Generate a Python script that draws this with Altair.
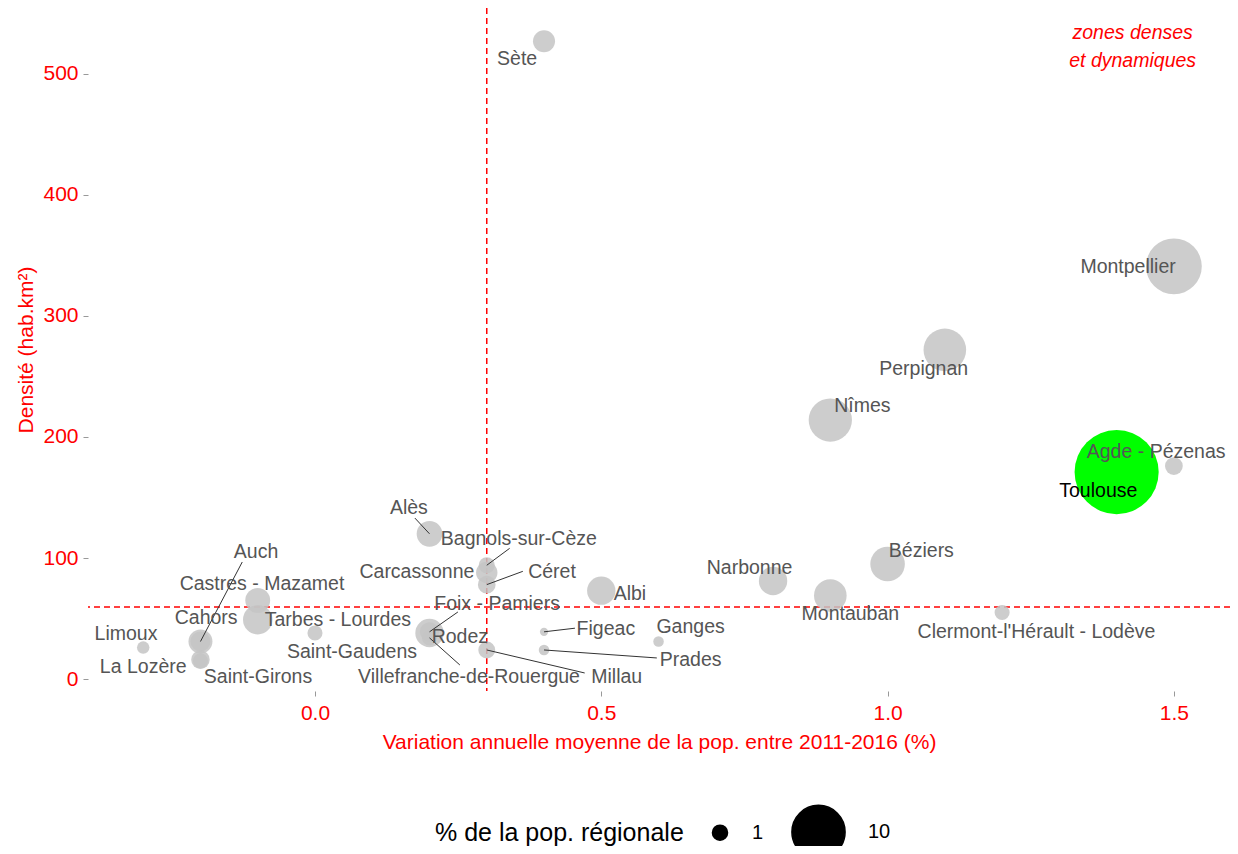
import altair as alt
import pandas as pd

zones = ["Sète", "Montpellier", "Perpignan", "Nîmes", "Agde - Pézenas", "Toulouse",
         "Béziers", "Narbonne", "Montauban", "Clermont-l'Hérault - Lodève", "Albi",
         "Ganges", "Figeac", "Prades", "Millau", "Villefranche-de-Rouergue", "Rodez",
         "Saint-Gaudens", "Foix - Pamiers", "Tarbes - Lourdes", "Carcassonne", "Céret",
         "Bagnols-sur-Cèze", "Alès", "Auch", "Castres - Mazamet", "Cahors", "Limoux",
         "La Lozère", "Saint-Girons"]
growth = [0.4, 1.5, 1.1, 0.9, 1.5, 1.4,
          1.0, 0.8, 0.9, 1.2, 0.5,
          0.6, 0.4, 0.4, 0.3, 0.2, 0.2,
          0.0, 0.2, -0.1, 0.3, 0.3,
          0.3, 0.2, -0.2, -0.1, -0.2, -0.3,
          -0.2, -0.2]
density = [527, 341, 272, 214, 176, 171,
           95, 81, 69, 55, 73,
           31, 39, 24, 24, 34, 38,
           38, 39, 49, 88, 78,
           94, 120, 31, 65, 31, 26,
           15, 16]
share = [1.9, 11.0, 6.5, 6.7, 1.3, 24.7,
         4.35, 3.0, 3.9, 1.0, 3.0,
         0.6, 0.45, 0.6, 1.2, 1.0, 3.0,
         1.0, 1.5, 3.2, 1.8, 1.3,
         1.1, 2.5, 1.6, 2.35, 2.2, 0.75,
         1.0, 1.4]
label_x = [0.353, 1.42, 1.063, 0.956, 1.469, 1.368,
           1.059, 0.759, 0.935, 1.26, 0.55,
           0.656, 0.508, 0.656, 0.527, 0.269, 0.253,
           0.0646, 0.318, 0.04, 0.178, 0.414,
           0.356, 0.164, -0.103, -0.0925, -0.19, -0.33,
           -0.30, -0.0995]
label_y = [512, 340.5, 256, 225.6, 187.6, 155,
           105.8, 91.7, 53.7, 38.8, 70.2,
           43, 41.3, 15.7, 1.7, 1.7, 34.7,
           22.3, 62, 48.8, 88.4, 88.4,
           115.7, 141.3, 105, 78.5, 50.4, 37.2,
           9.9, 1.7]

seg_zones = ["Auch", "Alès", "Bagnols-sur-Cèze", "Céret", "Foix - Pamiers",
             "Villefranche-de-Rouergue", "Millau", "Prades", "Figeac"]
seg_x2 = [-0.127, 0.1745, 0.340, 0.363, 0.2496, 0.253, 0.471, 0.597, 0.454]
seg_y2 = [96.7, 133, 108, 89, 55.4, 11.6, 5, 17.4, 42]

ref_growth = [0.3]
ref_density = [59.5]

annot_text = ["zones denses", "et dynamiques"]
annot_x = [1.428, 1.428]
annot_y = [534, 511]

df = pd.DataFrame({"zone": zones, "growth": growth, "density": density, "share": share,
                   "lx": label_x, "ly": label_y})
df["highlight"] = df["zone"] == "Toulouse"

seg = pd.DataFrame({"zone": seg_zones, "x2": seg_x2, "y2": seg_y2})
seg = seg.merge(df[["zone", "growth", "density"]], on="zone")

FONT = "Liberation Sans"
xs = alt.Scale(domain=[-0.3964, 1.598], nice=False, zero=False)
ys = alt.Scale(domain=[-9.9, 554.5], nice=False, zero=False)

xaxis = alt.Axis(values=[0, 0.5, 1.0, 1.5], format=".1f", grid=False, domain=False,
                 tickColor="#999999", tickSize=5, labelColor="red", labelFontSize=21,
                 labelFont=FONT, labelPadding=6,
                 title="Variation annuelle moyenne de la pop. entre 2011-2016 (%)",
                 titleColor="red", titleFont=FONT, titleFontSize=21, titleFontWeight="normal",
                 titlePadding=8)
yaxis = alt.Axis(values=[0, 100, 200, 300, 400, 500], grid=False, domain=False,
                 tickColor="#999999", tickSize=5, labelColor="red", labelFontSize=21,
                 labelFont=FONT, labelPadding=5, title="Densité (hab.km²)",
                 titleColor="red", titleFont=FONT, titleFontSize=21, titleFontWeight="normal",
                 titlePadding=6)

base = alt.Chart(df)

points = base.mark_circle().encode(
    x=alt.X("growth:Q", scale=xs, axis=xaxis),
    y=alt.Y("density:Q", scale=ys, axis=yaxis),
    size=alt.Size("share:Q", scale=alt.Scale(domain=[1, 10], range=[227, 2827], zero=False),
                  legend=alt.Legend(values=[1, 10], title="% de la pop. régionale",
                                    orient="none", legendX=347, legendY=796,
                                    direction="horizontal", titleOrient="left",
                                    titleFontSize=25, titleFont=FONT, titleColor="black",
                                    titleFontWeight="normal", titleLimit=500,
                                    labelFontSize=20, labelFont=FONT, labelColor="black",
                                    symbolFillColor="black", symbolStrokeColor="black",
                                    symbolOpacity=1, labelOffset=22, symbolOffset=0,
                                    titlePadding=26, columnPadding=24)),
    color=alt.Color("highlight:N", scale=alt.Scale(domain=[False, True], range=["#c4c4c4", "#00ff00"]),
                    legend=None),
    opacity=alt.condition("datum.highlight", alt.value(1.0), alt.value(0.85)),
)

hline = alt.Chart(pd.DataFrame({"d": ref_density})).mark_rule(
    color="red", strokeDash=[6, 4], strokeWidth=1.5).encode(y=alt.Y("d:Q", scale=ys))
vline = alt.Chart(pd.DataFrame({"g": ref_growth})).mark_rule(
    color="red", strokeDash=[6, 4], strokeWidth=1.5).encode(x=alt.X("g:Q", scale=xs))

segments = alt.Chart(seg).mark_rule(color="#333333", strokeWidth=1).encode(
    x=alt.X("growth:Q", scale=xs), y=alt.Y("density:Q", scale=ys),
    x2="x2:Q", y2="y2:Q")

labels = base.mark_text(font=FONT, fontSize=19.5, align="center", baseline="middle").encode(
    x=alt.X("lx:Q", scale=xs), y=alt.Y("ly:Q", scale=ys), text="zone:N",
    color=alt.Color("highlight:N", scale=alt.Scale(domain=[False, True], range=["#555555", "#000000"]),
                    legend=None),
)

annot = alt.Chart(pd.DataFrame({"t": annot_text, "x": annot_x, "y": annot_y})).mark_text(
    font=FONT, fontSize=19.5, fontStyle="italic", color="red", align="center", baseline="middle"
).encode(x=alt.X("x:Q", scale=xs), y=alt.Y("y:Q", scale=ys), text="t:N")

chart = alt.layer(vline, hline, points, segments, labels, annot).resolve_scale(
    color="independent"
).properties(
    width=1142, height=683,
    autosize=alt.AutoSizeParams(type="none"),
    padding={"left": 80, "top": 0, "right": 0, "bottom": 155},
).configure_view(stroke=None)

chart.save("out.html", embed_options={"renderer": "svg", "actions": False})
